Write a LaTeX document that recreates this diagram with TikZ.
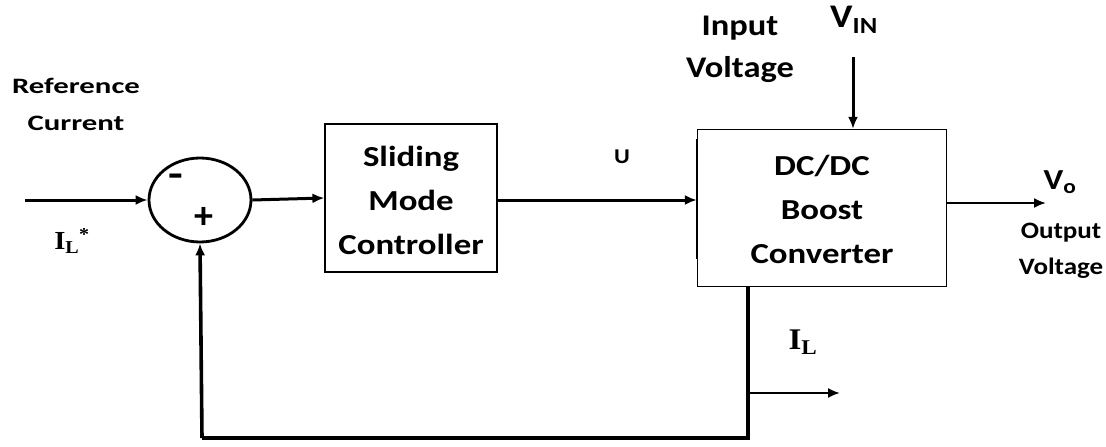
\documentclass[tikz,border=0pt]{standalone}
\usepackage{fontspec}
\setmainfont{Carlito}
\newfontfamily\fblk{Carlito}[FakeStretch=1.2]
\newfontfamily\fref{Carlito}[FakeStretch=1.4]
\newfontfamily\fin{Carlito}[FakeStretch=1.15]
\newfontfamily\serifb{Liberation Serif}[FakeStretch=1.1]
\usetikzlibrary{arrows.meta,shapes.geometric}
\begin{document}
\begin{tikzpicture}[x=1pt,y=-1pt,
  blk/.style={draw,line width=1.2pt,inner sep=0pt},
  wire/.style={line width=3pt},
  arr/.style={wire,-{Latex[length=12pt,width=10pt]}},
  thinarr/.style={line width=2pt,-{Latex[length=12pt,width=10pt]}},
  blab/.style={font=\fblk\bfseries\fontsize{29}{44}\selectfont,align=center,inner sep=0pt},
  txt/.style={align=center,inner sep=0pt}]
\useasboundingbox (0,0) rectangle (1106,447);
% summing junction
\node[draw,ellipse,line width=2.8pt,minimum width=102pt,minimum height=84pt,inner sep=0pt] (sum) at (200,200) {};
\node[txt,font=\fblk\bfseries\fontsize{40}{40}\selectfont] (minus) at (176,181) {-};
\node[txt,font=\bfseries\fontsize{38}{38}\selectfont] (plus) at (204,218) {+};
% blocks
\node[blk,minimum width=172pt,minimum height=148pt] (smc) at (411,198) {};
\node[blab] (smct) at (411,200) {Sliding\\Mode\\Controller};
\node[blk,minimum width=249pt,minimum height=157pt] (dc) at (822,208) {};
\node[blab] (dct) at (822,209) {DC/DC\\Boost\\Converter};
\draw[line width=2.4pt] ([yshift=-10pt]dc.north west) -- ([yshift=28pt]dc.south west);
% coordinates
\coordinate (in) at (25,200);
\coordinate (vin) at (853,57);
\coordinate (vo) at (1046,203);
\coordinate (fb1) at (748,438);
\coordinate (fb2) at (202,438);
\coordinate (br) at (748,393);
\coordinate (bre) at (840,393);
% wires
\draw[arr] (in) -- (sum.west);
\draw[arr] (sum.east) -- (smc.west);
\draw[arr] (smc.east |- 0,200) -- (dc.west |- 0,200);
\draw[arr] (vin) -- (vin |- dc.north);
\draw[thinarr] (dc.east |- vo) -- (vo);
\draw[wire,line width=3.6pt] (fb1 |- dc.south) -- (fb1) -- (fb2);
\draw[arr,line width=3.6pt] (fb2) -- (sum.south);
\draw[thinarr] (br) -- (bre);
% labels
\node[txt,font=\fref\bfseries\fontsize{22}{37}\selectfont] (ref) at (76,104) {Reference\\Current};
\node[txt,font=\serifb\bfseries\fontsize{26}{26}\selectfont] (ils) at (72,241) {I\textsubscript{L}\textsuperscript{*}};
\node[txt,font=\fin\bfseries\fontsize{21}{21}\selectfont] (u) at (622,157) {U};
\node[txt,font=\fin\bfseries\fontsize{30}{42}\selectfont] (inv) at (740,49) {Input\\Voltage};
\node[txt,font=\fin\bfseries\fontsize{33}{33}\selectfont] (vinl) at (854,20) {V\textsubscript{IN}};
\node[txt,font=\fin\bfseries\fontsize{29}{29}\selectfont] (vol) at (1060,182) {V\textsubscript{o}};
\node[txt,font=\fin\bfseries\fontsize{23.5}{36}\selectfont] (outv) at (1061,251) {Output\\Voltage};
\node[txt,font=\serifb\bfseries\fontsize{30}{30}\selectfont] (il) at (803,342) {I\textsubscript{L}};
\end{tikzpicture}
\end{document}
